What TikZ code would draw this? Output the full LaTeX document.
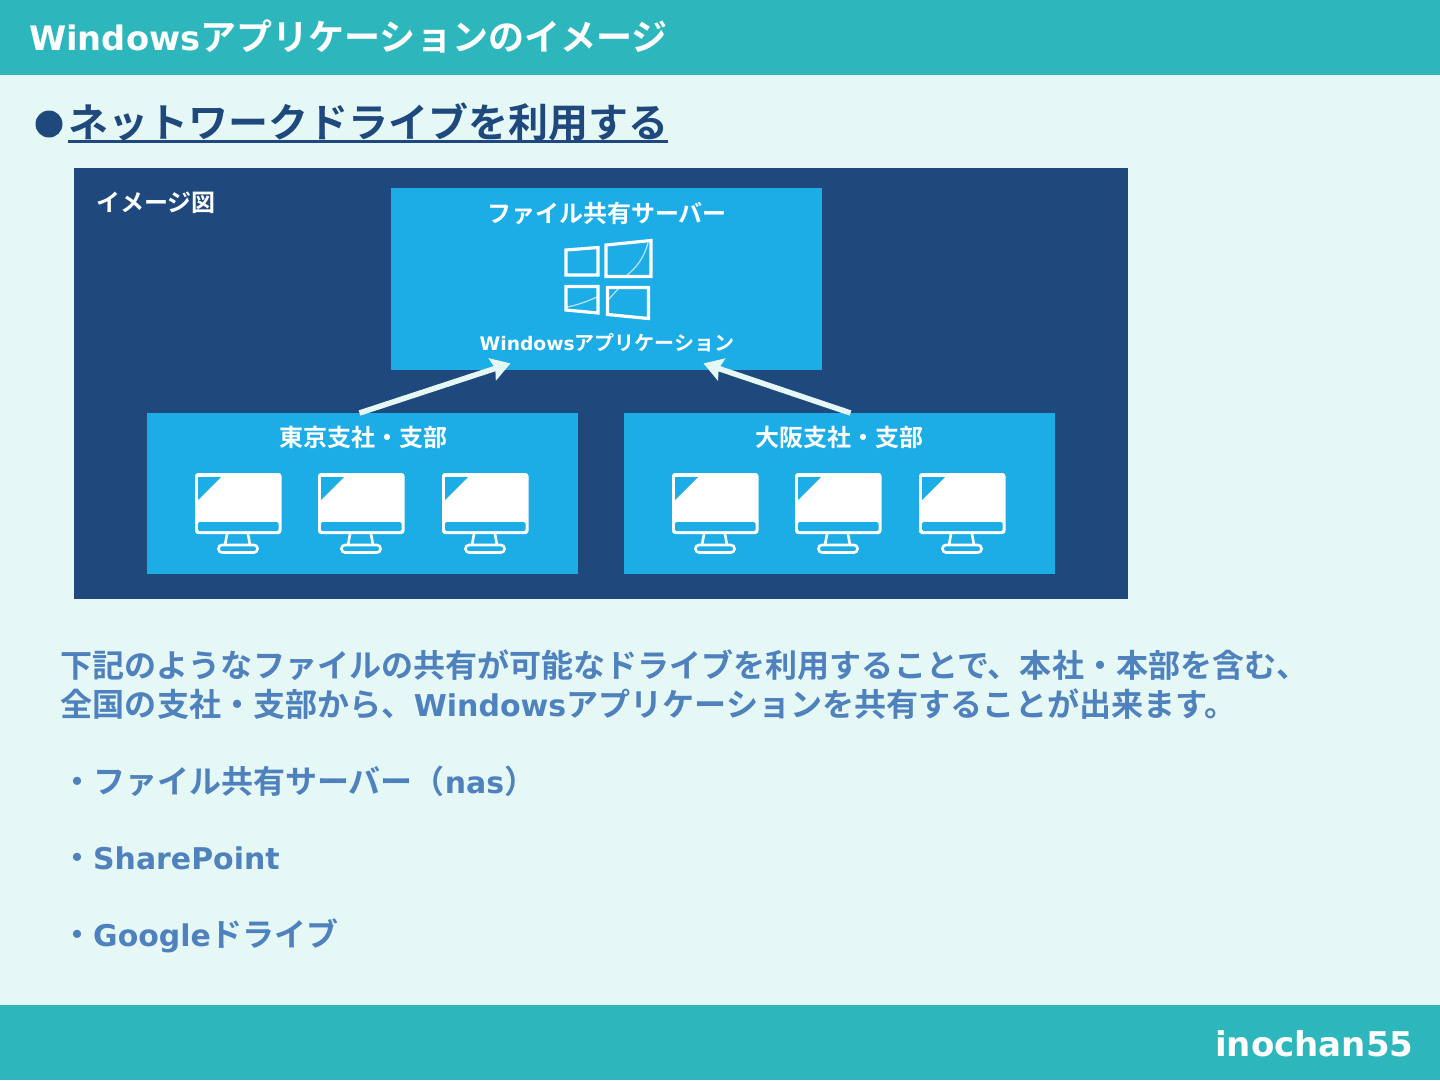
\documentclass[tikz,border=0pt]{standalone}
\usepackage{fontspec}
\setmainfont{Noto Sans CJK JP}[BoldFont={Noto Sans CJK JP Bold}]
\newfontfamily\latf{DejaVu Sans Bold}[Scale=0.935]
\usetikzlibrary{arrows.meta}
\definecolor{bgc}{HTML}{E5F8F6}
\definecolor{tealc}{HTML}{2DB7BD}
\definecolor{navyc}{HTML}{1F497D}
\definecolor{bluec}{HTML}{1CACE6}
\definecolor{bodyc}{HTML}{4F81BD}
\newcommand{\lt}[1]{{\latf #1}}
\newcommand{\fs}[1]{\fontsize{#1}{#1}\selectfont\bfseries}
\tikzset{
  x=1pt,y=-1pt,
  txt/.style={inner sep=0pt,anchor=base west},
  ctxt/.style={inner sep=0pt,anchor=base,text=white},
  band/.style={fill=tealc,draw=none},
  panel/.style={fill=bluec,draw=none,inner sep=0pt,minimum width=431pt},
  linkarrow/.style={draw=bgc,line width=5.5pt,-{Stealth[length=19pt,width=23pt,inset=3pt]}},
  logoline/.style={draw=white,line width=3.2pt,line join=miter},
  logothin/.style={draw=white,opacity=.7,line width=1.2pt},
  pc/.pic={
    \path[fill=white,rounded corners=3pt] (0,0) rectangle (86.5,61);
    \path[fill=bluec] (3,4) -- (26,4) -- (3,27) -- cycle;
    \path[fill=bluec,rounded corners=1.5pt] (3,49) rectangle (83.5,58);
    \draw[white,line width=2.6pt,line join=round] (32,61) -- (30,72) (53,61) -- (55,72);
    \draw[white,line width=2.6pt,rounded corners=3.5pt] (23.5,72) rectangle (62.5,79.5);
  }
}
\begin{document}
\begin{tikzpicture}
\useasboundingbox (0,0) rectangle (1440,1080);
\fill[bgc] (0,0) rectangle (1440,1080);
\fill[band] (0,0) rectangle (1440,75);
\fill[band] (0,1005) rectangle (1440,1080);
\node[txt,text=white] (title) at (29,50) {\fs{36.05}\lt{Windows}アプリケーションのイメージ};
\node[txt,text=white] (author) at (1215,1056) {\fs{36.4}\lt{inochan55}};
% heading
\fill[navyc] (49,124) circle (13.5);
\node[txt,text=navyc] (heading) at (68,137) {\fs{40}ネットワークドライブを利用する};
\draw[navyc,line width=2.4pt] (68,141.5) -- (668,141.5);
% panel
\fill[navyc] (74,168) rectangle (1128,599);
\node[txt,text=white] (zu) at (96,211) {\fs{24}イメージ図};
\node[panel,minimum height=182pt,anchor=north] (server) at (606.5,188) {};
\node[panel,minimum height=161pt,anchor=north] (tokyo) at (362.5,413) {};
\node[panel,minimum height=161pt,anchor=north] (osaka) at (839.5,413) {};
\node[ctxt] (srvlabel) at (607,222) {\fs{24}ファイル共有サーバー};
\node[ctxt] (srvapp) at (607,350) {\fs{20}\lt{Windows}アプリケーション};
\node[ctxt] (tklabel) at (363,446) {\fs{24}東京支社・支部};
\node[ctxt] (oslabel) at (839,446) {\fs{24}大阪支社・支部};
% windows logo
\draw[logoline] (566,250) -- (598,247.5) -- (598,275) -- (566,275) -- cycle;
\draw[logoline] (606,245) -- (651,240.5) -- (651,276.5) -- (606,276.5) -- cycle;
\draw[logoline] (566,286.5) -- (598,286.5) -- (598,313) -- (566,310) -- cycle;
\draw[logoline] (607.5,287.5) -- (648.5,287.5) -- (648.5,318.5) -- (607.5,314.5) -- cycle;
\draw[logothin] (648,243) .. controls (644,258) and (636,268) .. (626,276);
\draw[logothin] (567,307) .. controls (578,305) and (588,301) .. (597,297);
\draw[logothin] (608,300) .. controls (612,296) and (616,291) .. (619,288);
% monitors
\foreach \mx in {195,318,442,672,795,919} \pic at (\mx,473) {pc};
% arrows
\draw[linkarrow] ([xshift=-3pt]tokyo.north) -- ([xshift=-96pt,yshift=7pt]server.south);
\draw[linkarrow] ([xshift=11pt]osaka.north) -- ([xshift=97pt,yshift=7pt]server.south);
% body
\node[txt,text=bodyc] (l1) at (60.5,677) {\fs{32.05}下記のようなファイルの共有が可能なドライブを利用することで、本社・本部を含む、};
\node[txt,text=bodyc] (l2) at (60.5,716) {\fs{32.1}全国の支社・支部から、\lt{Windows}アプリケーションを共有することが出来ます。};
\node[txt,text=bodyc] (l3) at (61,793) {\fs{32}・ファイル共有サーバー（\lt{nas}）};
\node[txt,text=bodyc] (l4) at (61,869) {\fs{32}・\lt{SharePoint}};
\node[txt,text=bodyc] (l5) at (61,946) {\fs{32}・\lt{Google}ドライブ};
\end{tikzpicture}
\end{document}
